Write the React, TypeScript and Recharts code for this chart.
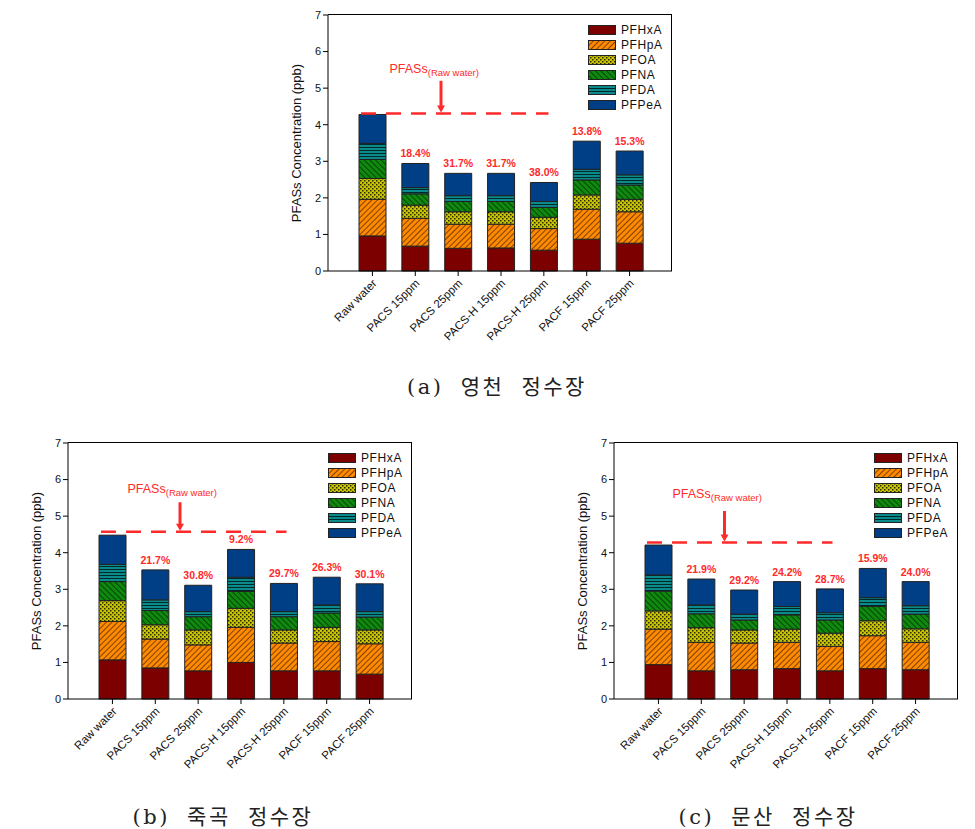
import React from 'react';
import {
  BarChart, Bar, XAxis, YAxis, LabelList, ReferenceLine, ReferenceDot,
} from 'recharts';

// treatment conditions (x axis)
const categories = [
  'Raw water', 'PACS 15ppm', 'PACS 25ppm', 'PACS-H 15ppm',
  'PACS-H 25ppm', 'PACF 15ppm', 'PACF 25ppm',
];

// stack order, bottom to top
const compounds = ['PFHxA', 'PFHpA', 'PFOA', 'PFNA', 'PFDA', 'PFPeA'];

// (a) 영천 정수장, ppb, one row per compound
const yeongcheon = [
  [0.96, 0.68, 0.62, 0.63, 0.57, 0.87, 0.76],
  [1.00, 0.76, 0.66, 0.65, 0.59, 0.82, 0.86],
  [0.57, 0.36, 0.34, 0.34, 0.31, 0.39, 0.34],
  [0.52, 0.31, 0.28, 0.28, 0.27, 0.41, 0.39],
  [0.44, 0.17, 0.16, 0.16, 0.16, 0.29, 0.28],
  [0.79, 0.66, 0.61, 0.61, 0.52, 0.77, 0.65],
];
const yeongcheonPct = [null, 18.4, 31.7, 31.7, 38.0, 13.8, 15.3];

// (b) 죽곡 정수장
const jukgok = [
  [1.07, 0.85, 0.77, 1.00, 0.77, 0.77, 0.68],
  [1.05, 0.79, 0.71, 0.96, 0.76, 0.80, 0.83],
  [0.57, 0.39, 0.41, 0.52, 0.36, 0.39, 0.38],
  [0.52, 0.39, 0.36, 0.46, 0.36, 0.39, 0.35],
  [0.47, 0.29, 0.14, 0.39, 0.14, 0.22, 0.15],
  [0.80, 0.82, 0.72, 0.76, 0.77, 0.76, 0.76],
];
const jukgokPct = [null, 21.7, 30.8, 9.2, 29.7, 26.3, 30.1];

// (c) 문산 정수장
const munsan = [
  [0.94, 0.77, 0.80, 0.83, 0.77, 0.83, 0.80],
  [0.97, 0.78, 0.73, 0.72, 0.67, 0.90, 0.75],
  [0.50, 0.40, 0.36, 0.36, 0.36, 0.41, 0.37],
  [0.54, 0.38, 0.27, 0.39, 0.36, 0.39, 0.40],
  [0.44, 0.24, 0.16, 0.23, 0.20, 0.24, 0.23],
  [0.82, 0.71, 0.66, 0.68, 0.65, 0.80, 0.66],
];
const munsanPct = [null, 21.9, 29.2, 24.2, 28.7, 15.9, 24.0];

// raw-water total level (dashed line)
const rawLevels = [4.31, 4.57, 4.28];

const yTicks = [0, 1, 2, 3, 4, 5, 6, 7];

const FILLS: Record<string, string> = {
  PFHxA: '#7c0000',
  PFHpA: 'url(#pHatchOrange)',
  PFOA: 'url(#pDotsOlive)',
  PFNA: 'url(#pHatchGreen)',
  PFDA: 'url(#pLinesTeal)',
  PFPeA: '#003e85',
};

const SANS = '"Liberation Sans", Arial, sans-serif';
const RED = '#ff2a2a';

function Patterns() {
  return (
    <svg width={0} height={0} style={{ position: 'absolute' }}>
      <defs>
        <pattern id="pHatchOrange" width={4} height={4} patternUnits="userSpaceOnUse" patternTransform="rotate(45)">
          <rect width={4} height={4} fill="#ff8a00" />
          <line x1={0} y1={0} x2={0} y2={4} stroke="#3a1a00" strokeWidth={1.3} />
        </pattern>
        <pattern id="pDotsOlive" width={4} height={4} patternUnits="userSpaceOnUse">
          <rect width={4} height={4} fill="#c9c400" />
          <rect x={0} y={0} width={1.5} height={1.5} fill="#2a2a00" />
          <rect x={2} y={2} width={1.5} height={1.5} fill="#2a2a00" />
        </pattern>
        <pattern id="pHatchGreen" width={4} height={4} patternUnits="userSpaceOnUse" patternTransform="rotate(-45)">
          <rect width={4} height={4} fill="#0f8a0f" />
          <line x1={0} y1={0} x2={0} y2={4} stroke="#002800" strokeWidth={1.4} />
        </pattern>
        <pattern id="pLinesTeal" width={4} height={3} patternUnits="userSpaceOnUse">
          <rect width={4} height={3} fill="#0a8a8a" />
          <line x1={0} y1={0.5} x2={4} y2={0.5} stroke="#002a2a" strokeWidth={1} />
        </pattern>
      </defs>
    </svg>
  );
}

const RotTick = (props: any) => {
  const { x, y, payload } = props;
  return (
    <g transform={`translate(${x + 5},${y + 6})`}>
      <text x={0} y={0} textAnchor="end" transform="rotate(-45)" fontSize={11.5} fontFamily={SANS} fill="#111">
        {payload.value}
      </text>
    </g>
  );
};

type PlantProps = {
  left: number;
  top: number;
  rows: number[][];
  pct: (number | null)[];
  raw: number;
  lineTo: number;
  arrowX: number;
  arrowTop: number;
  labelX: number;
  labelY: number;
  caption: string;
  captionX: number;
  captionY: number;
};

function PlantChart(p: PlantProps) {
  const data = categories.map((c, i) => {
    const row: any = { name: c, pct: p.pct[i] };
    compounds.forEach((k, j) => { row[k] = p.rows[j][i]; });
    return row;
  });
  const W = 420;
  const H = 400;
  const m = { top: 15, right: 8, left: 38, bottom: 29 };
  const plotL = p.left + m.left + 30;
  const plotR = p.left + W - m.right;
  const plotT = p.top + m.top;
  const plotB = p.top + H - m.bottom - 100;
  const pad = { left: 23, right: 21 };

  return (
    <>
      <div style={{ position: 'absolute', left: p.left, top: p.top }}>
        <BarChart width={W} height={H} data={data} margin={m}>
          <XAxis dataKey="name" tick={<RotTick />} height={100} interval={0} tickSize={5}
            padding={pad} axisLine={{ stroke: '#000' }} tickLine={{ stroke: '#000' }} />
          <XAxis xAxisId="n" type="number" domain={[0, 7]} hide padding={pad} allowDataOverflow />
          <YAxis domain={[0, 7]} ticks={yTicks} width={30} tickSize={5} interval={0}
            tick={{ fontSize: 11, fill: '#111', fontFamily: SANS }}
            axisLine={{ stroke: '#000' }} tickLine={{ stroke: '#000' }} />
          {compounds.map((k) => (
            <Bar key={k} dataKey={k} stackId="s" fill={FILLS[k]} stroke="#222" strokeWidth={1}
              barSize={27} isAnimationActive={false}>
              {k === 'PFPeA' && (
                <LabelList dataKey="pct" position="top" offset={6}
                  formatter={(v: any) => (v == null ? '' : Number(v).toFixed(1) + '%')}
                  style={{ fill: RED, fontSize: 10.5, fontWeight: 'bold', fontFamily: SANS }} />
              )}
            </Bar>
          ))}
          <ReferenceLine xAxisId="n" segment={[{ x: 0.2, y: p.raw }, { x: p.lineTo, y: p.raw }]}
            stroke={RED} strokeWidth={2.5} strokeDasharray="15 10" ifOverflow="extendDomain" />
          <ReferenceLine xAxisId="n" segment={[{ x: p.arrowX, y: p.arrowTop }, { x: p.arrowX, y: p.raw }]}
            ifOverflow="extendDomain"
            shape={(s: any) => (
              <g>
                <line x1={s.x1} y1={s.y1} x2={s.x2} y2={s.y2 - 7} stroke={RED} strokeWidth={3} />
                <polygon points={`${s.x2 - 4},${s.y2 - 8} ${s.x2 + 4},${s.y2 - 8} ${s.x2},${s.y2 - 1}`} fill={RED} />
              </g>
            )} />
          <ReferenceDot xAxisId="n" x={p.labelX} y={p.labelY} r={0} ifOverflow="extendDomain"
            shape={(s: any) => (
              <text x={s.cx} y={s.cy} fill={RED} fontFamily={SANS} fontSize={12.5}>
                PFASs
                <tspan fontSize={9.5} dy={3}>(Raw water)</tspan>
              </text>
            )} />
        </BarChart>
      </div>

      {/* top and right frame of the plot box */}
      <div style={{
        position: 'absolute', left: plotL, top: plotT - 1, width: plotR - plotL, height: plotB - plotT + 1,
        borderTop: '1px solid #000', borderRight: '1px solid #000', boxSizing: 'border-box', pointerEvents: 'none',
      }} />

      {/* y axis title */}
      <div style={{
        position: 'absolute', left: plotL - 32, top: (plotT + plotB) / 2,
        transform: 'translate(-50%, -50%) rotate(-90deg)', whiteSpace: 'nowrap',
        fontFamily: SANS, fontSize: 13, color: '#111',
      }}>
        PFASs Concentration (ppb)
      </div>

      {/* legend */}
      {compounds.map((k, i) => (
        <div key={k} style={{
          position: 'absolute', left: plotR - 84, top: plotT + 15 + i * 14.9 - 7,
          height: 14, display: 'flex', alignItems: 'center',
          fontFamily: SANS, fontSize: 12, color: '#111', letterSpacing: 0.6,
        }}>
          <svg width={28} height={10} style={{ marginRight: 5 }}>
            <rect x={0.5} y={0.5} width={27} height={9} fill={FILLS[k]} stroke="#222" strokeWidth={1} />
          </svg>
          <span>{k}</span>
        </div>
      ))}

      {/* caption */}
      <div style={{
        position: 'absolute', left: p.captionX, top: p.captionY,
        transform: 'translate(-50%, -50%)', whiteSpace: 'nowrap',
        fontFamily: '"DejaVu Serif", "Noto Sans CJK KR", serif', fontSize: 21,
        color: '#222', letterSpacing: 2.5, wordSpacing: 8,
      }}>
        {p.caption}
      </div>
    </>
  );
}

export default function App() {
  return (
    <div style={{ position: 'absolute', left: 0, top: 0, width: 975, height: 829, background: '#fff', overflow: 'hidden' }}>
      <Patterns />
      <PlantChart left={260} top={0} rows={yeongcheon} pct={yeongcheonPct} raw={rawLevels[0]}
        lineTo={3.95} arrowX={1.8} arrowTop={5.2} labelX={0.77} labelY={5.41}
        caption="(a) 영천 정수장" captionX={497} captionY={385} />
      <PlantChart left={0} top={428} rows={jukgok} pct={jukgokPct} raw={rawLevels[1]}
        lineTo={3.91} arrowX={1.78} arrowTop={5.38} labelX={0.73} labelY={5.63}
        caption="(b) 죽곡 정수장" captionX={223} captionY={815} />
      <PlantChart left={546} top={428} rows={munsan} pct={munsanPct} raw={rawLevels[2]}
        lineTo={3.91} arrowX={1.75} arrowTop={5.14} labelX={0.71} labelY={5.49}
        caption="(c) 문산 정수장" captionX={768} captionY={815} />
    </div>
  );
}
